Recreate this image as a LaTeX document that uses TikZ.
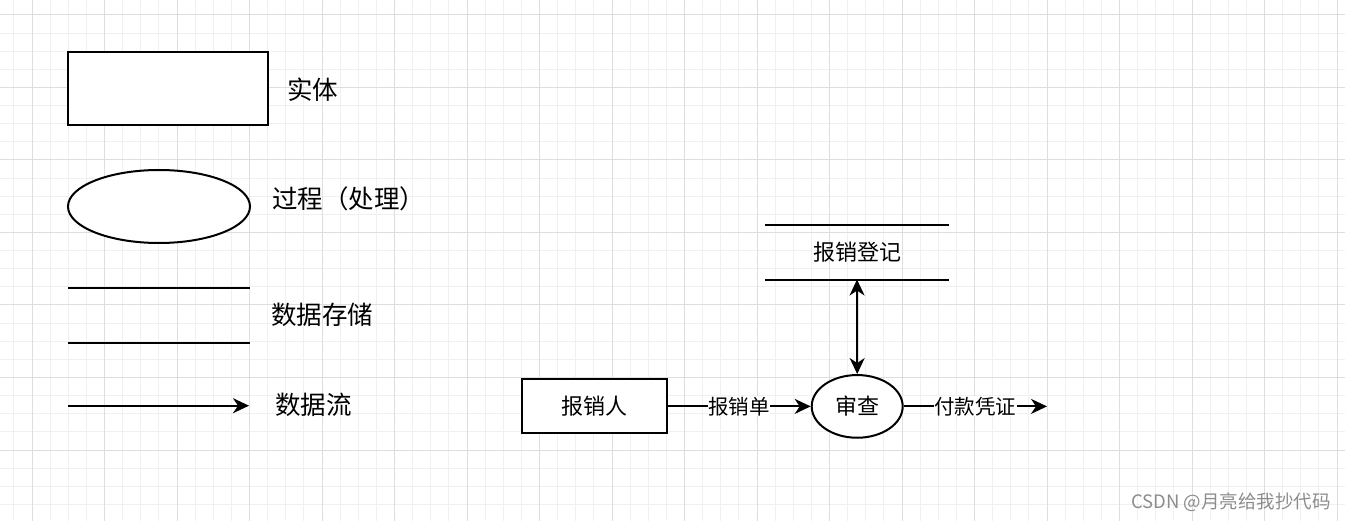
\documentclass[tikz,border=0pt]{standalone}
\usepackage{fontspec}
\setmainfont{Noto Sans CJK SC}
\usepackage{tikz}
\usetikzlibrary{
    arrows.meta,
    positioning,
    shapes.geometric
}
\definecolor{gridminor}{HTML}{F0F0F0}
\definecolor{gridmajor}{HTML}{DEDEDE}
\tikzset{dtip/.tip={Stealth[length=16pt,width=15pt,inset=5pt]}}
\tikzstyle{entity} = [draw, line width=2pt, inner sep=0pt, font=\fontsize{22}{26}\selectfont]
\tikzstyle{process} = [ellipse, draw, line width=2pt, inner sep=0pt, font=\fontsize{22}{26}\selectfont]
\tikzstyle{store} = [inner sep=0pt, font=\fontsize{22}{26}\selectfont]
\tikzstyle{legend} = [anchor=west, inner sep=0pt, font=\fontsize{25.5}{30}\selectfont]
\tikzstyle{flow} = [-dtip, line width=2pt]
\tikzstyle{flowboth} = [dtip-dtip, line width=2pt]
\tikzstyle{flowlabel} = [fill=white, inner sep=0.5pt, font=\fontsize{20.5}{24}\selectfont]

\begin{document}
\begin{tikzpicture}[x=1pt,y=-1pt]
\useasboundingbox (0,0) rectangle (1345,521);
% grid
\foreach \i in {0,...,74} \draw[gridminor, line width=1pt] ({13.875+18.125*\i},0) -- ++(0,521);
\foreach \i in {0,...,28} \draw[gridminor, line width=1pt] (0,{15+18.125*\i}) -- ++(1345,0);
\foreach \i in {0,...,18} \draw[gridmajor, line width=1pt] ({32+72.5*\i},0) -- ++(0,521);
\foreach \i in {0,...,7} \draw[gridmajor, line width=1pt] (0,{15+72.5*\i}) -- ++(1345,0);

% legend
\node[entity, fill=white, minimum width=200pt, minimum height=73pt] (ent) at (168,89) {};
\node[legend] (entname) at (287,90) {实体};
\node[process, fill=white, minimum width=182pt, minimum height=73pt] (proc) at (159,206.5) {};
\node[legend] (procname) at (272,199) {过程（处理）};
\node[store, minimum width=182pt, minimum height=54.7pt] (lstore) at (159,315.6) {};
\draw[line width=2pt] (lstore.north west) -- (lstore.north east);
\draw[line width=2pt] (lstore.south west) -- (lstore.south east);
\node[legend] (storename) at (271,315) {数据存储};
\coordinate (fa) at (68,405.7);
\coordinate (fb) at (249,405.7);
\draw[flow] (fa) -- (fb);
\node[legend] (flowname) at (275,405) {数据流};

% example
\node[entity, fill=white, minimum width=145pt, minimum height=54pt] (person) at (594.2,406.4) {报销人};
\node[process, fill=white, minimum width=91pt, minimum height=62.7pt] (audit) at (857.2,406.4) {审查};
\node[store, minimum width=184pt, minimum height=54.3pt] (reg) at (857,252.2) {报销登记};
\draw[line width=2pt] (reg.north west) -- (reg.north east);
\draw[line width=2pt] (reg.south west) -- (reg.south east);
\coordinate (out) at (1047,406.4);
\draw[flow] (person.east) -- node[flowlabel] (form) {报销单} (audit.west);
\draw[flow] (audit.east) -- node[flowlabel] (voucher) {付款凭证} (out);
\draw[flowboth] (reg.south) -- (audit.north);

\node[anchor=east, inner sep=0pt, text=black!45, font=\fontsize{18.5}{22}\selectfont] (wm) at (1331,502) {CSDN @月亮给我抄代码};
\end{tikzpicture}
\end{document}
